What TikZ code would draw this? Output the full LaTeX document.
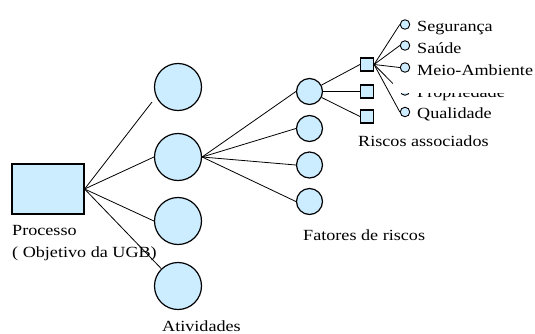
\documentclass[tikz,border=0pt]{standalone}
\usepackage{fontspec}
\setmainfont{Liberation Serif}[FakeStretch=1.17]
\definecolor{nodefill}{HTML}{CCECFF}
\begin{document}
\begin{tikzpicture}[x=1pt,y=-1pt,
  procbox/.style={draw=black,line width=1.2pt,fill=nodefill,rectangle,inner sep=0pt,minimum width=72pt,minimum height=50pt},
  bigcirc/.style={draw=black,line width=1.2pt,fill=nodefill,circle,inner sep=0pt,minimum size=47pt},
  midcirc/.style={draw=black,line width=1.2pt,fill=nodefill,circle,inner sep=0pt,minimum size=26pt},
  riskbox/.style={draw=black,line width=1.1pt,fill=nodefill,rectangle,inner sep=0pt,minimum width=13pt,minimum height=13pt},
  tinycirc/.style={draw=black,line width=0.9pt,fill=nodefill,circle,inner sep=0pt,minimum size=9.5pt},
  link/.style={draw=black,line width=0.8pt},
  lbl/.style={anchor=base west,inner sep=0pt,font=\fontsize{15.5pt}{18pt}\selectfont}]
\useasboundingbox (0,0) rectangle (535,333);

% process box and activities
\node[procbox] (proc) at (48,189) {};
\node[bigcirc] (c1) at (178,87) {};
\node[bigcirc] (c2) at (178,157) {};
\node[bigcirc] (c3) at (178,221) {};
\node[bigcirc] (c4) at (178,286) {};
\coordinate (a1) at (152,102);

% risk factors
\node[midcirc] (f1) at (309.5,91.5) {};
\node[midcirc] (f2) at (309.5,128.5) {};
\node[midcirc] (f3) at (309.5,165) {};
\node[midcirc] (f4) at (309.5,201.5) {};

% associated risks
\node[riskbox] (s1) at (367,64.5) {};
\node[riskbox] (s2) at (367,91.5) {};
\node[riskbox] (s3) at (367,116.5) {};

% risk categories (Propriedade first, partly covered by the label box above it)
\node[tinycirc] (t4) at (405,90.5) {};
\draw[link] (s1.east) -- (t4.west);
\node[lbl] (l4) at (417,97.5) {Propriedade};
\node[fill=white,inner sep=0pt,minimum width=142pt,minimum height=18.5pt,anchor=north west] (mask) at (393,74) {};

\node[tinycirc] (t1) at (405,24.5) {};
\node[tinycirc] (t2) at (405,45.5) {};
\node[tinycirc] (t3) at (405,67.5) {};
\node[tinycirc] (t5) at (405,112) {};

\node[lbl] (l1) at (417,31) {Segurança};
\node[lbl] (l2) at (417,53) {Saúde};
\node[lbl] (l3) at (417,75) {Meio-Ambiente};
\node[lbl] (l5) at (417,118.5) {Qualidade};

% connectors
\draw[link] (proc.east) -- (a1);
\draw[link] (proc.east) -- (c2.west);
\draw[link] (proc.east) -- (c3.west);
\draw[link] (proc.east) -- (c4);

\draw[link] (c2.east) -- (f1.west);
\draw[link] (c2.east) -- (f2.west);
\draw[link] (c2.east) -- (f3.west);
\draw[link] (c2.east) -- (f4.west);

\draw[link] (f1) -- (s1.west);
\draw[link] (f1) -- (s2.west);
\draw[link] (f1) -- (s3.west);

\draw[link] (s1.east) -- (t1.west);
\draw[link] (s1.east) -- (t2.west);
\draw[link] (s1.east) -- (t3.west);
\draw[link] (s1.east) -- (t5.west);

% labels
\node[lbl] (lproc) at (12,235) {Processo};
\node[lbl] (lobj) at (12,257) {( Objetivo da UGB)};
\node[lbl] (latv) at (162,331) {Atividades};
\node[lbl] (lfat) at (303,240) {Fatores de riscos};
\node[lbl] (lrisc) at (358,146) {Riscos associados};
\end{tikzpicture}
\end{document}
